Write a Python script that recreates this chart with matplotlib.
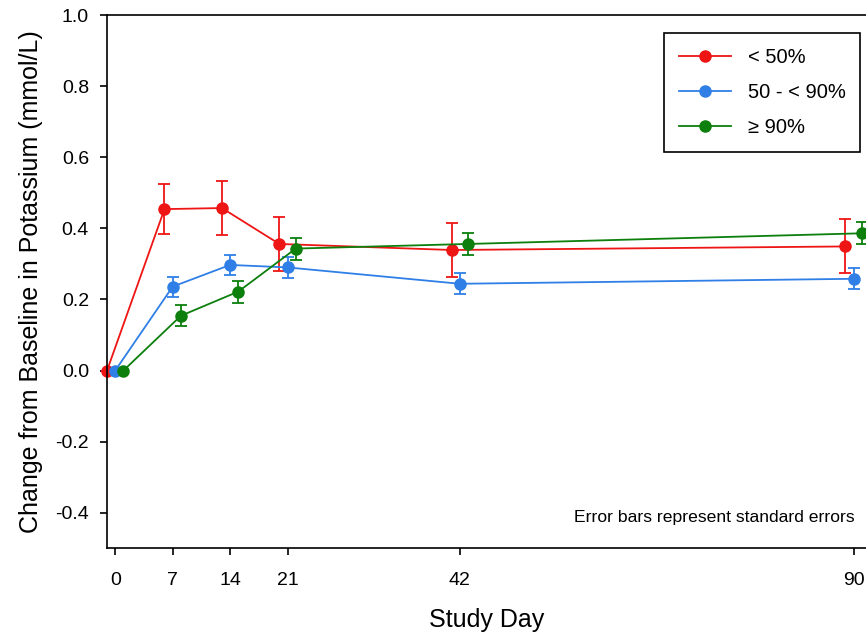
import matplotlib
matplotlib.use("Agg")
import matplotlib.pyplot as plt
from matplotlib.lines import Line2D

plt.rcParams['font.family'] = ['Liberation Sans', 'DejaVu Sans']
plt.rcParams['axes.unicode_minus'] = False

# study days and mean change (SE) per reduction group
days = [0, 7, 14, 21, 42, 90]
groups = ["< 50%", "50 - < 90%", "\u2265 90%"]

mean_lt50 = [0.0, 0.454, 0.457, 0.356, 0.339, 0.349]
se_lt50 = [0.0, 0.071, 0.076, 0.075, 0.075, 0.076]

mean_50_90 = [0.0, 0.236, 0.297, 0.290, 0.244, 0.258]
se_50_90 = [0.0, 0.028, 0.029, 0.030, 0.030, 0.030]

mean_ge90 = [0.0, 0.154, 0.222, 0.343, 0.356, 0.386]
se_ge90 = [0.0, 0.030, 0.031, 0.031, 0.031, 0.031]

colors = ["#ee1515", "#2f7fe6", "#0c7f0c"]
dodge = [-1.0, 0.0, 1.0]

fig = plt.figure(figsize=(8.66, 6.39), dpi=100)
ax = fig.add_axes([0.1236, 0.142, 0.8764, 0.8345])

series = [(mean_lt50, se_lt50), (mean_50_90, se_50_90), (mean_ge90, se_ge90)]
handles = []
for (means, errs), label, color, dx in zip(series, groups, colors, dodge):
    xs = [d + dx for d in days]
    line, caps, bars = ax.errorbar(xs, means, yerr=errs, color=color, marker='o',
                                   markersize=8, linewidth=1.3, elinewidth=1.3,
                                   capsize=4, capthick=1.3)
    line.set_clip_on(False)
    for c in caps:
        c.set_clip_on(False)
    for b in bars:
        b.set_clip_on(False)
    handles.append(Line2D([], [], color=color, marker='o', markersize=8,
                          linewidth=1.3, label=label))

ax.set_xlim(-1, 91.5)
ax.set_ylim(-0.5, 1.0)
ax.set_xticks(days)
ax.set_yticks([-0.4, -0.2, 0.0, 0.2, 0.4, 0.6, 0.8, 1.0])
ax.set_yticklabels(["-0.4", "-0.2", "0.0", "0.2", "0.4", "0.6", "0.8", "1.0"])
ax.tick_params(axis='both', direction='out', length=5, width=1.2,
               labelsize=14, pad=8)
ax.tick_params(axis='x', pad=12)
ax.spines['right'].set_visible(False)
for s in ['left', 'bottom', 'top']:
    ax.spines[s].set_linewidth(1.2)

ax.set_xlabel("Study Day", fontsize=18, labelpad=14)
ax.set_ylabel("Change from Baseline in Potassium (mmol/L)", fontsize=18,
              labelpad=9)

ax.text(0.985, 0.057, "Error bars represent standard errors", transform=ax.transAxes,
        ha='right', va='center', fontsize=12.6)

leg = ax.legend(handles=handles, loc='upper right', bbox_to_anchor=(1.006, 0.986),
                fontsize=14.5, frameon=True, fancybox=False, edgecolor='black',
                handlelength=2.6, borderpad=0.75, labelspacing=0.8,
                handletextpad=0.8, framealpha=1)
leg.get_frame().set_linewidth(1.2)

fig.savefig("out.png", dpi=100)
